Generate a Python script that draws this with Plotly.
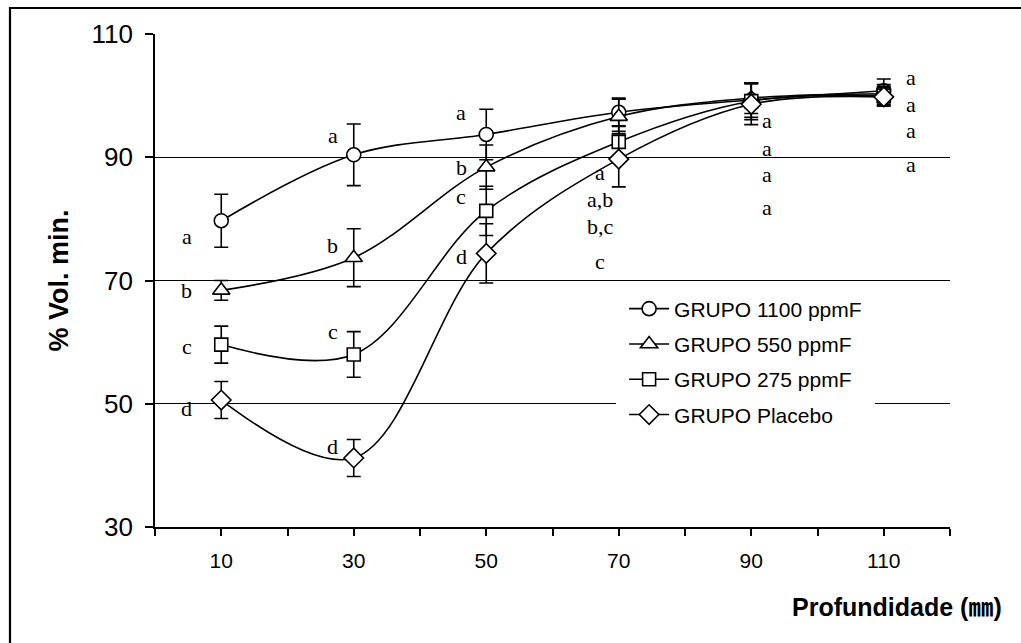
import plotly.graph_objects as go

depths = [10, 30, 50, 70, 90, 110]

names = ["GRUPO 1100 ppmF", "GRUPO 550 ppmF", "GRUPO 275 ppmF", "GRUPO Placebo"]
g1100 = [79.7, 90.4, 93.7, 97.3, 99.3, 100.8]
g1100_err = [4.3, 5.0, 4.1, 2.3, 2.8, 1.9]
g550 = [68.4, 73.7, 88.4, 96.6, 99.6, 100.3]
g550_err = [1.6, 4.7, 3.6, 2.8, 2.5, 1.5]
g275 = [59.6, 58.0, 81.3, 92.5, 99.1, 100.0]
g275_err = [3.0, 3.7, 4.0, 2.6, 3.0, 1.5]
placebo = [50.6, 41.2, 74.4, 89.7, 98.6, 99.8]
placebo_err = [3.0, 3.0, 4.8, 4.5, 3.3, 1.5]

# significance letters per depth (top to bottom)
letters = [
    ["a", "b", "c", "d"],
    ["a", "b", "c", "d"],
    ["a", "b", "c", "d"],
    ["a", "a,b", "b,c", "c"],
    ["a", "a", "a", "a"],
    ["a", "a", "a", "a"],
]
letter_y = [
    [77.1, 68.4, 59.3, 49.3],
    [93.5, 75.7, 61.7, 43.1],
    [97.2, 88.3, 83.6, 73.9],
    [87.5, 83.1, 78.7, 73.1],
    [95.9, 91.4, 87.2, 81.8],
    [103.0, 98.5, 94.3, 88.9],
]
letter_x = [4.8, 26.8, 46.2, 67.2, 92.4, 114.1]

y_ticks = [30, 50, 70, 90, 110]
x_ticks = [10, 30, 50, 70, 90, 110]

series = [
    (names[0], g1100, g1100_err, "circle", 14),
    (names[1], g550, g550_err, "triangle-up", 15),
    (names[2], g275, g275_err, "square", 13),
    (names[3], placebo, placebo_err, "diamond", 15),
]

fig = go.Figure()
for i, (nm, vals, errs, sym, sz) in enumerate(series):
    fig.add_trace(go.Scatter(
        x=depths, y=vals, name=nm, mode="lines+markers",
        legendgroup=f"g{i}",
        line=dict(color="black", width=1.6, shape="spline", smoothing=1.0),
        marker=dict(symbol=sym, size=sz, color="white",
                    line=dict(color="black", width=1.6)),
        error_y=dict(type="data", array=errs, visible=True,
                     color="black", thickness=1.6, width=7),
    ))

annotations = []
for xi, labs, ys in zip(letter_x, letters, letter_y):
    for lab, yy in zip(labs, ys):
        annotations.append(dict(
            x=xi, y=yy, xref="x", yref="y", text=lab, showarrow=False,
            font=dict(family="Liberation Serif, Times New Roman, serif",
                      size=22, color="black"),
            xanchor="center", yanchor="middle"))

annotations.append(dict(
    x=-0.1208, y=0.5, xref="paper", yref="paper", text="<b>% Vol. min.</b>",
    textangle=-90, showarrow=False, xanchor="center", yanchor="middle",
    font=dict(family="Liberation Sans, Arial, sans-serif", size=27, color="black")))
annotations.append(dict(
    x=0.933, y=-0.162, xref="paper", yref="paper",
    text="<b>Profundidade (㎜)</b>", showarrow=False,
    xanchor="center", yanchor="middle",
    font=dict(family="Liberation Sans, Arial, Noto Sans CJK JP, sans-serif",
              size=25, color="black")))

fig.update_layout(
    width=1021, height=643, autosize=False,
    margin=dict(l=155, r=71, t=34, b=116),
    paper_bgcolor="white", plot_bgcolor="white",
    font=dict(family="Liberation Sans, Arial, sans-serif", color="black"),
    showlegend=True,
    legend=dict(
        x=0.580, y=0.500, xanchor="left", yanchor="top",
        bgcolor="white", bordercolor="white", borderwidth=8, itemwidth=40,
        font=dict(family="Liberation Sans, Arial, sans-serif", size=21, color="black"),
        traceorder="grouped", tracegroupgap=5,
    ),
    annotations=annotations,
    shapes=[dict(type="rect", xref="paper", yref="paper",
                 x0=-0.1824, x1=1.3, y0=-0.4, y1=1.0527,
                 line=dict(color="black", width=2.2), layer="below")],
)

fig.update_xaxes(
    range=[0, 120], tickvals=x_ticks, ticktext=[str(v) for v in x_ticks],
    ticks="outside", ticklen=7, tickwidth=1.5, tickcolor="black",
    minor=dict(dtick=10, tick0=0, ticks="outside", ticklen=7, tickwidth=1.5,
               tickcolor="black", showgrid=False),
    showline=True, linecolor="black", linewidth=1.6,
    showgrid=False, zeroline=False,
    tickfont=dict(size=21, color="black"), ticklabelstandoff=7,
)
fig.update_yaxes(
    range=[30, 110], tickvals=y_ticks,
    ticks="outside", ticklen=8, tickwidth=1.5, tickcolor="black",
    showline=True, linecolor="black", linewidth=1.6,
    showgrid=True, gridcolor="black", gridwidth=1.2, zeroline=False,
    tickfont=dict(size=26, color="black"), ticklabelstandoff=7,
)

fig.write_html("out.html", config={"displayModeBar": False},
               post_script="document.body.style.margin='0';")
